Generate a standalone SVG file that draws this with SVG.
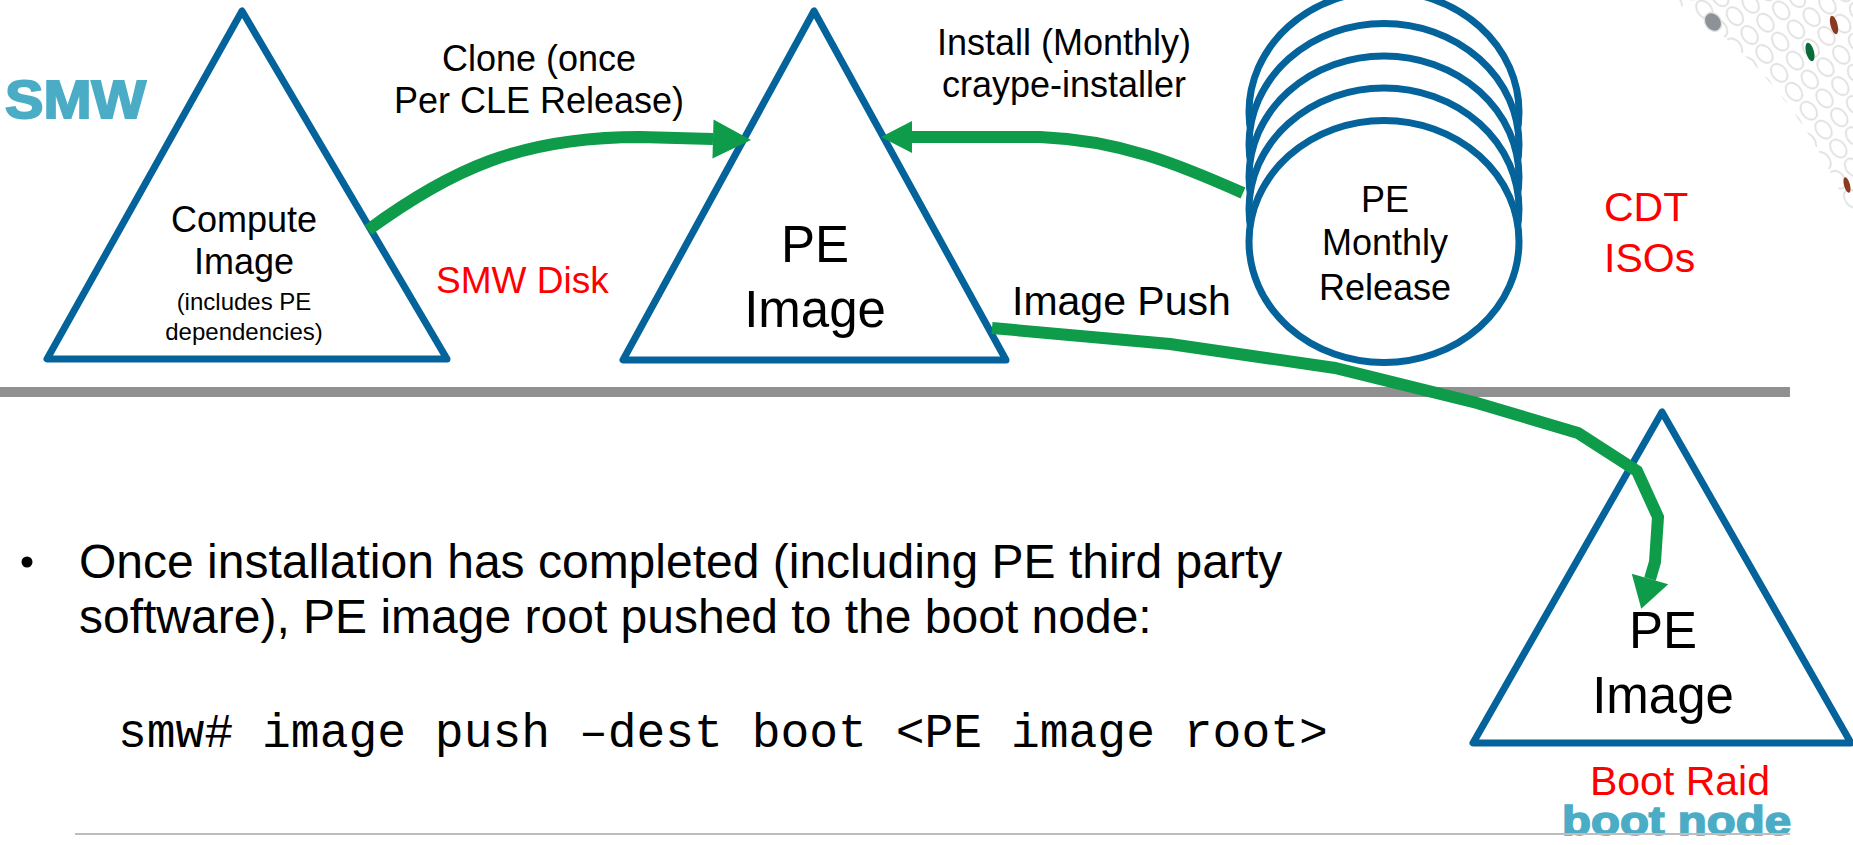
<svg xmlns="http://www.w3.org/2000/svg" width="1853" height="845" viewBox="0 0 1853 845">
  <style>
    .sans { font-family: "Liberation Sans", Arial, sans-serif; }
    .mono { font-family: "Liberation Mono", "Courier New", monospace; }
    .tri { fill: none; stroke: #04639b; stroke-width: 7; stroke-linejoin: round; }
    .disc { fill: #ffffff; stroke: #04639b; stroke-width: 7; }
    .flow { fill: none; stroke: #0e9c4a; stroke-width: 12; stroke-linejoin: miter; }
    .lbl { fill: #000000; }
    .red { fill: #ff0000; }
    .teal { fill: #4bacc6; stroke: #4bacc6; font-weight: bold; }
  </style>
  <defs>
    <marker id="headL" markerUnits="userSpaceOnUse" markerWidth="40" markerHeight="40" refX="0" refY="19.5" orient="auto" overflow="visible">
      <path d="M0,0 L38,19.5 L0,39 Z" fill="#0e9c4a"/>
    </marker>
    <marker id="headM" markerUnits="userSpaceOnUse" markerWidth="34" markerHeight="34" refX="0" refY="16" orient="auto" overflow="visible">
      <path d="M0,0 L31,16 L0,32 Z" fill="#0e9c4a"/>
    </marker>
    <marker id="headP" markerUnits="userSpaceOnUse" markerWidth="40" markerHeight="40" refX="0" refY="19" orient="auto" overflow="visible">
      <path d="M0,0 L31,19 L0,38 Z" fill="#0e9c4a"/>
    </marker>
    <pattern id="rings" width="20" height="24" patternUnits="userSpaceOnUse" patternTransform="rotate(-38 1853 0)">
      <ellipse cx="10" cy="12" rx="7" ry="10" fill="none" stroke="#dedede" stroke-width="1.7"/>
    </pattern>
  </defs>

  <!-- corner ornament: band of faint rings with a few coloured dots -->
  <g id="ornament">
    <path d="M1672,0 Q1790,70 1853,220 L1853,0 Z" fill="url(#rings)"/>
    <ellipse cx="1713" cy="22" rx="8" ry="10" transform="rotate(-35 1713 22)" fill="#8d9198" stroke="#e2e2e2" stroke-width="1.5"/>
    <ellipse cx="1810" cy="52" rx="4" ry="9.5" transform="rotate(-15 1810 52)" fill="#0a6b3a"/>
    <ellipse cx="1834" cy="25" rx="3.5" ry="9.5" transform="rotate(-15 1834 25)" fill="#8b3a22"/>
    <ellipse cx="1847" cy="185" rx="3" ry="8" transform="rotate(-15 1847 185)" fill="#8b3a22"/>
  </g>

  <!-- section labels -->
  <g id="smw-label">
    <text class="sans teal" x="5" y="118" font-size="53" stroke-width="2" textLength="141" lengthAdjust="spacingAndGlyphs">SMW</text>
  </g>
  <g id="smw-disk-label">
    <text class="sans red" x="436" y="293" font-size="37">SMW Disk</text>
  </g>
  <g id="cdt-label">
    <text class="sans red" x="1604" y="221" font-size="41">CDT</text>
    <text class="sans red" x="1604" y="272" font-size="41">ISOs</text>
  </g>

  <!-- divider between SMW and boot node -->
  <rect id="divider" x="0" y="387" width="1790" height="10" fill="#909090"/>

  <!-- compute image -->
  <g id="compute-image">
    <polygon class="tri" points="242,11 47,359 447,359"/>
    <text class="sans lbl" x="244" y="232" font-size="36" text-anchor="middle">Compute</text>
    <text class="sans lbl" x="244" y="274" font-size="36" text-anchor="middle">Image</text>
    <text class="sans lbl" x="244" y="310" font-size="24" text-anchor="middle">(includes PE</text>
    <text class="sans lbl" x="244" y="340" font-size="24" text-anchor="middle">dependencies)</text>
  </g>

  <!-- PE image on the SMW -->
  <g id="pe-image-smw">
    <polygon class="tri" points="814,11 623,360 1006,360"/>
    <text class="sans lbl" x="815" y="262" font-size="51" text-anchor="middle">PE</text>
    <text class="sans lbl" x="815" y="327" font-size="51" text-anchor="middle">Image</text>
  </g>

  <!-- stack of monthly release discs -->
  <g id="pe-monthly-release">
    <ellipse class="disc" cx="1384" cy="112" rx="135" ry="121"/>
    <ellipse class="disc" cx="1384" cy="144.5" rx="135" ry="121"/>
    <ellipse class="disc" cx="1384" cy="177" rx="135" ry="121"/>
    <ellipse class="disc" cx="1384" cy="209" rx="135" ry="121"/>
    <ellipse class="disc" cx="1384" cy="241.5" rx="135" ry="121"/>
    <text class="sans lbl" x="1385" y="212" font-size="36" text-anchor="middle">PE</text>
    <text class="sans lbl" x="1385" y="255" font-size="36" text-anchor="middle">Monthly</text>
    <text class="sans lbl" x="1385" y="300" font-size="36" text-anchor="middle">Release</text>
  </g>

  <!-- PE image on the boot node -->
  <g id="pe-image-boot">
    <polygon class="tri" points="1662,412 1473,743 1851,743"/>
    <text class="sans lbl" x="1663" y="648" font-size="51" text-anchor="middle">PE</text>
    <text class="sans lbl" x="1663" y="713" font-size="51" text-anchor="middle">Image</text>
    <text class="sans red" x="1680" y="795" font-size="41" text-anchor="middle">Boot Raid</text>
    <text class="sans teal" x="1562" y="835" font-size="40" stroke-width="1.6" textLength="229" lengthAdjust="spacingAndGlyphs">boot node</text>
  </g>

  <!-- bullet text and command -->
  <g id="notes">
    <circle cx="27" cy="562" r="5.5" fill="#000000"/>
    <text class="sans lbl" x="79" y="578" font-size="48">Once installation has completed (including PE third party</text>
    <text class="sans lbl" x="79" y="633" font-size="48">software), PE image root pushed to the boot node:</text>
    <text class="mono lbl" x="118" y="747" font-size="48">smw# image push –dest boot &lt;PE image root&gt;</text>
  </g>

  <line id="footer-rule" x1="75" y1="834" x2="1790" y2="834" stroke="#bdbdbd" stroke-width="2"/>

  <!-- connectors -->
  <g id="connectors">
    <path class="flow" d="M368,230 C450,170 520,137 640,137 L713,139" marker-end="url(#headL)"/>
    <text class="sans lbl" x="539" y="71" font-size="36" text-anchor="middle">Clone (once</text>
    <text class="sans lbl" x="539" y="113" font-size="36" text-anchor="middle">Per CLE Release)</text>

    <path class="flow" d="M1243,193 C1180,165 1120,140 1040,137 L912,137" marker-end="url(#headM)"/>
    <text class="sans lbl" x="1064" y="55" font-size="36" text-anchor="middle">Install (Monthly)</text>
    <text class="sans lbl" x="1064" y="97" font-size="36" text-anchor="middle">craype-installer</text>

    <path class="flow" d="M992,328 L1170,344 L1335,368 L1477,403 L1578,433 L1637,471 L1658,517 L1655,562 L1650,579" marker-end="url(#headP)"/>
    <text class="sans lbl" x="1012" y="315" font-size="41">Image Push</text>
  </g>
</svg>
